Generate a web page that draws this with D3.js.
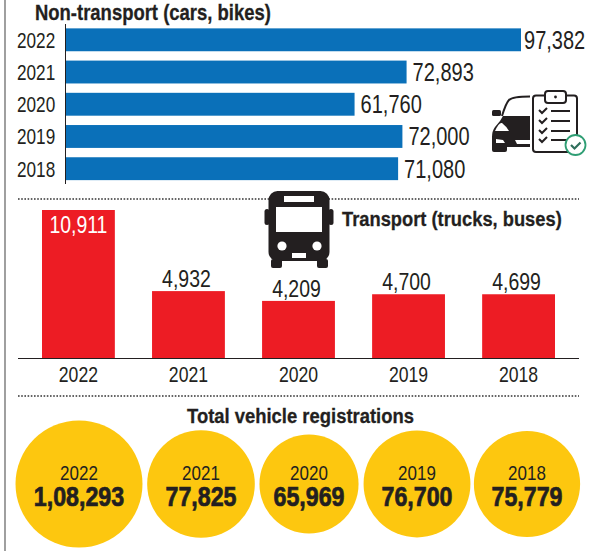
<!DOCTYPE html>
<html><head><meta charset="utf-8">
<script src="https://cdn.jsdelivr.net/npm/d3@7"></script>
<style>
html,body{margin:0;padding:0;background:#fff}
svg{display:block}
text{font-family:"Liberation Sans",sans-serif;fill:#231f20}
</style></head><body>
<svg id="c" width="600" height="551"></svg>
<script>
const years = ["2022","2021","2020","2019","2018"];
const nonTransport = [97382,72893,61760,72000,71080];
const transport = [10911,4932,4209,4700,4699];
const totals = [108293,77825,65969,76700,75779];
const totalLabels = ["1,08,293","77,825","65,969","76,700","75,779"];
const titles = ["Non-transport (cars, bikes)","Transport (trucks, buses)","Total vehicle registrations"];
const BLUE="#0a70b9", RED="#ed1c24", YEL="#fdc70f", INK="#231f20";
const svg=d3.select("#c");
const fmt=d3.format(",");
// condense a text horizontally: no narrow face is installed
const squeeze=(sel,f)=>sel.each(function(){
  this.setAttribute("textLength",(this.getComputedTextLength()*f).toFixed(1));
  this.setAttribute("lengthAdjust","spacingAndGlyphs");
});
// title drawn bold and scaled to a given pixel width
const title=(txt,px,py,size,width)=>{
  const t=svg.append("text").attr("font-size",size).attr("font-weight",700)
    .attr("stroke",INK).attr("stroke-width",.3).text(txt);
  const s=width/t.node().getComputedTextLength();
  t.attr("transform",`translate(${px},${py}) scale(${s},1)`);
};

svg.append("line").attr("x1",5).attr("x2",5).attr("y1",0).attr("y2",551).attr("stroke","#777").attr("stroke-width",1.4);
[199,396].forEach(d=>svg.append("line").attr("x1",18).attr("x2",579).attr("y1",d).attr("y2",d)
  .attr("stroke","#333").attr("stroke-width",1.3).attr("stroke-dasharray","1.6 1.6"));

// Non-transport
const x=d3.scaleLinear().domain([0,97382]).range([66,521]);
const y=d3.scaleBand().domain(years).range([24.5,184]).paddingInner(0.29).paddingOuter(0.12);
title(titles[0],35,20,22,236);
svg.append("line").attr("x1",65.5).attr("x2",65.5).attr("y1",24).attr("y2",184).attr("stroke",INK).attr("stroke-width",1);
const g1=svg.append("g");
g1.selectAll("rect").data(years).join("rect").attr("x",x(0)).attr("y",d=>y(d)).attr("height",y.bandwidth())
  .attr("width",(d,i)=>x(nonTransport[i])-x(0)).attr("fill",BLUE);
g1.selectAll("text.yr").data(years).join("text").attr("class","yr").attr("x",17).attr("y",d=>y(d)+y.bandwidth()/2+8)
  .attr("font-size",22).text(d=>d).call(squeeze,.78);
g1.selectAll("text.v").data(years).join("text").attr("class","v").attr("x",(d,i)=>x(nonTransport[i])+(i==0?3:6)).attr("y",d=>y(d)+y.bandwidth()/2+9)
  .attr("font-size",25).text((d,i)=>fmt(nonTransport[i])).call(squeeze,.8);

// Transport
const bx=d3.scaleBand().domain(years).range([42,555]).paddingInner(0.338);
const by=d3.scaleLinear().domain([0,10911]).range([358,210]);
title(titles[1],342,226,21,220);
const g2=svg.append("g");
g2.selectAll("rect").data(years).join("rect").attr("x",d=>bx(d)).attr("width",bx.bandwidth())
  .attr("y",(d,i)=>by(transport[i])).attr("height",(d,i)=>by(0)-by(transport[i])).attr("fill",RED);
svg.append("line").attr("x1",18).attr("x2",579).attr("y1",358.5).attr("y2",358.5).attr("stroke",INK).attr("stroke-width",1);
g2.selectAll("text.v").data(years).join("text").attr("class","v").attr("text-anchor","middle")
  .attr("x",(d,i)=>bx(d)+bx.bandwidth()/2-(i==0?0:2)).attr("y",(d,i)=>i==0?by(transport[i])+23:by(transport[i])-4)
  .attr("font-size",24).style("fill",(d,i)=>i==0?"#fff":INK).text((d,i)=>fmt(transport[i])).call(squeeze,.81);
g2.selectAll("text.yr").data(years).join("text").attr("class","yr").attr("text-anchor","middle")
  .attr("x",d=>bx(d)+bx.bandwidth()/2).attr("y",382).attr("font-size",22).text(d=>d).call(squeeze,.8);

// Totals
title(titles[2],187,423,21,227);
const r=d3.scaleSqrt().domain([0,108293]).range([0,63.5]);
const cxs=[79,201,309,417,527];
const g3=svg.append("g");
const cg=g3.selectAll("g").data(years).join("g").attr("transform",(d,i)=>`translate(${cxs[i]},484)`);
cg.append("circle").attr("r",(d,i)=>r(totals[i])).attr("fill",YEL);
cg.append("text").attr("text-anchor","middle").attr("y",-4).attr("font-size",20).text(d=>d).call(squeeze,.85);
cg.append("text").attr("text-anchor","middle").attr("y",22).attr("font-size",27).attr("font-weight",700)
  .attr("stroke",INK).attr("stroke-width",.7).text((d,i)=>totalLabels[i]).call(squeeze,.86);

// Bus icon
const bus=svg.append("g").attr("transform","translate(265,191)").attr("fill",INK);
bus.append("rect").attr("x",3.5).attr("y",0).attr("width",61).attr("height",70).attr("rx",9);
bus.append("rect").attr("x",-0.5).attr("y",18).attr("width",5).attr("height",16).attr("rx",2.5);
bus.append("rect").attr("x",63.5).attr("y",18).attr("width",5).attr("height",16).attr("rx",2.5);
bus.append("rect").attr("x",6).attr("y",68).attr("width",11).attr("height",9).attr("rx",2);
bus.append("rect").attr("x",52).attr("y",68).attr("width",11).attr("height",9).attr("rx",2);
bus.append("rect").attr("x",19).attr("y",5).attr("width",30).attr("height",6).attr("fill","#fff");
bus.append("rect").attr("x",11).attr("y",16).attr("width",46).attr("height",25).attr("fill","#fff");
bus.append("circle").attr("cx",17).attr("cy",55).attr("r",4.6).attr("fill","#fff");
bus.append("circle").attr("cx",52).attr("cy",55).attr("r",4.6).attr("fill","#fff");
bus.append("rect").attr("x",27).attr("y",62).attr("width",14).attr("height",5).attr("fill","#fff");

// Car + checklist icon
const ic=svg.append("g").attr("transform","translate(491,91)");
ic.append("path").attr("fill","none").attr("stroke",INK).attr("stroke-width",2).attr("d","M39 5.5 C28 5.5 21 6 18 9 Q15 12 11 25");
ic.append("path").attr("fill",INK).attr("d","M39 25 L12 25 L9 30 L4 36 Q1 40 1 46 L1 59 Q1 61 3 61 L14 61 Q16 61 16 59 L16 56 L39 56 L39 53 L26 53 L24 49 L39 49 Z");
ic.append("rect").attr("x",1).attr("y",19).attr("width",9).attr("height",6).attr("rx",1.5).attr("fill",INK);
ic.append("path").attr("fill","#fff").attr("d","M4 40 Q8 31 11 32 Q15 35 18 40 Z");
ic.append("path").attr("fill","#fff").attr("d","M5 48 L12 49 L14 52 L5 52 Z");
ic.append("rect").attr("x",42).attr("y",4.5).attr("width",44).attr("height",56.5).attr("rx",3).attr("fill","#fff").attr("stroke",INK).attr("stroke-width",2);
ic.append("rect").attr("x",54).attr("y",0).attr("width",21).attr("height",12).attr("rx",3).attr("fill","#fff").attr("stroke",INK).attr("stroke-width",2);
ic.append("circle").attr("cx",64.5).attr("cy",6).attr("r",1.4).attr("fill",INK);
[20,30,40,49].forEach(yy=>{
 ic.append("path").attr("fill","none").attr("stroke",INK).attr("stroke-width",2).attr("d",`M48 ${yy-1} l3 3 l5 -5 M60 ${yy} H79`);
});
ic.append("circle").attr("cx",84.5).attr("cy",54).attr("r",10).attr("fill","#fff").attr("stroke","#2f9e74").attr("stroke-width",1.8);
ic.append("path").attr("fill","none").attr("stroke","#2f6f5c").attr("stroke-width",2.2).attr("d","M80 54 l3.5 3.5 l6 -6");
</script>
</body></html>
